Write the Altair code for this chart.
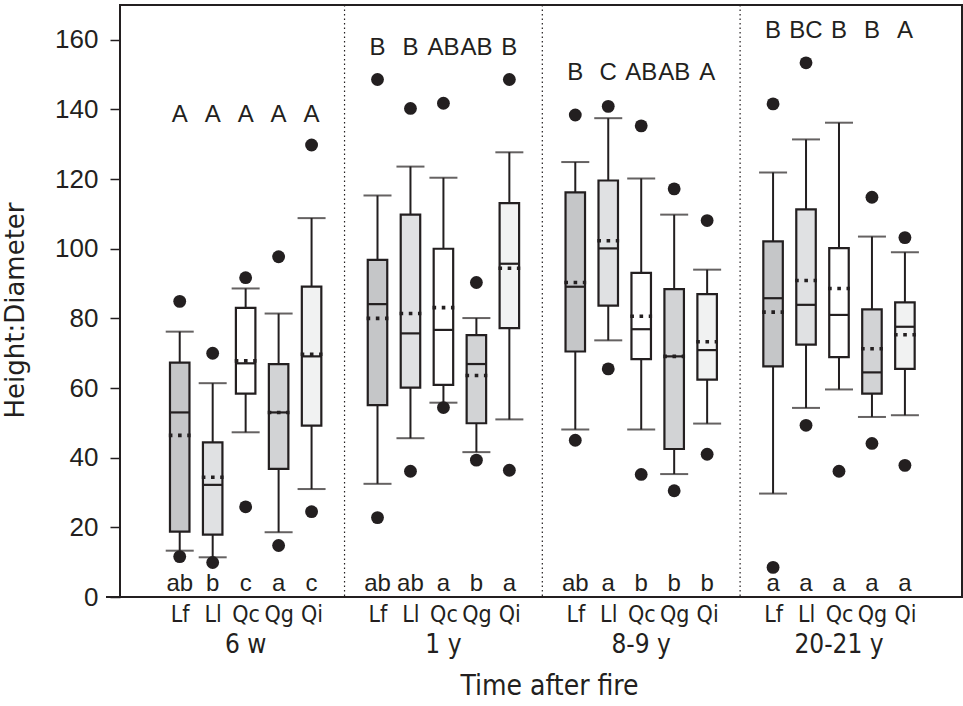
import altair as alt
import pandas as pd

groups = ["6 w", "1 y", "8-9 y", "20-21 y"]
species = ["Lf", "Ll", "Qc", "Qg", "Qi"]

whisker_low = [[13.3, 11.4, 47.3, 18.6, 31.0],
               [32.5, 45.6, 55.8, 41.6, 51.0],
               [48.1, 73.7, 48.1, 35.3, 49.8],
               [29.7, 54.3, 59.6, 51.7, 52.2]]
q1 = [[18.8, 17.9, 58.4, 36.8, 49.2],
      [55.1, 60.1, 60.9, 49.9, 77.2],
      [70.5, 83.7, 68.3, 42.5, 62.4],
      [66.2, 72.5, 68.9, 58.4, 65.5]]
median = [[53.0, 32.2, 67.1, 53.0, 69.1],
          [84.1, 75.7, 76.7, 66.9, 95.7],
          [89.1, 100.1, 76.9, 69.1, 70.9],
          [85.8, 83.9, 81.0, 64.5, 77.6]]
mean = [[46.4, 34.4, 67.8, 53.0, 69.7],
        [80.0, 81.4, 83.1, 63.6, 94.4],
        [90.3, 102.3, 80.6, 69.1, 73.3],
        [81.8, 90.9, 88.6, 71.3, 75.3]]
q3 = [[67.3, 44.4, 83.0, 66.9, 89.1],
      [96.8, 109.8, 100.0, 75.2, 113.1],
      [116.2, 119.6, 93.1, 88.4, 87.0],
      [102.1, 111.3, 100.2, 82.6, 84.6]]
whisker_high = [[76.2, 61.4, 88.6, 81.4, 108.8],
                [115.3, 123.6, 120.4, 80.1, 127.7],
                [124.9, 137.5, 120.2, 109.8, 94.0],
                [121.9, 131.4, 136.2, 103.5, 99.0]]
outlier_low = [[11.6, 9.9, 25.9, 14.8, 24.5],
               [22.8, 36.1, 54.4, 39.3, 36.4],
               [45.0, 65.5, 35.2, 30.5, 41.0],
               [8.5, 49.3, 36.1, 44.1, 37.8]]
outlier_high = [[84.9, 70.0, 91.7, 97.7, 129.8],
                [148.6, 140.3, 141.8, 90.3, 148.6],
                [138.4, 140.9, 135.3, 117.2, 108.1],
                [141.6, 153.4, None, 114.8, 103.2]]
upper_letters = [["A", "A", "A", "A", "A"],
                 ["B", "B", "AB", "AB", "B"],
                 ["B", "C", "AB", "AB", "A"],
                 ["B", "BC", "B", "B", "A"]]
lower_letters = [["ab", "b", "c", "a", "c"],
                 ["ab", "ab", "a", "b", "a"],
                 ["ab", "a", "b", "b", "b"],
                 ["a", "a", "a", "a", "a"]]

# layout: height at which the letter rows sit, per group (in axis units)
upper_letter_y = [138.4, 157.6, 150.4, 162.6]
lower_letter_y = 3.6

rows, outs = [], []
for g, gname in enumerate(groups):
    for s, sp in enumerate(species):
        pos = 6 * g + s
        rows.append(dict(group=gname, species=sp, pos=pos,
                         wlo=whisker_low[g][s], q1=q1[g][s], med=median[g][s],
                         mean=mean[g][s], q3=q3[g][s], whi=whisker_high[g][s],
                         up=upper_letters[g][s], low=lower_letters[g][s],
                         upy=upper_letter_y[g], lowy=lower_letter_y))
        for v in (outlier_low[g][s], outlier_high[g][s]):
            if v is not None:
                outs.append(dict(pos=pos, v=v))
df = pd.DataFrame(rows)
dout = pd.DataFrame(outs)
dgroups = pd.DataFrame({"group": groups, "pos": [6 * g + 2 for g in range(len(groups))]})
ddiv = pd.DataFrame({"pos": [5, 11, 17]})

INK = "#231f20"
NARROW = "DejaVu Sans Condensed, Liberation Sans Narrow, sans-serif"
REG = "Liberation Sans, Arial, Helvetica, sans-serif"
WIDE = "DejaVu Sans, sans-serif"
fills = ["#c5c6c8", "#e0e1e3", "#ffffff", "#d2d3d5", "#f1f2f2"]

xsc = alt.Scale(domain=[-1.66, 23.58], nice=False, zero=False)
ysc = alt.Scale(domain=[0, 170], nice=False, zero=True)

label_expr = "['Lf','Ll','Qc','Qg','Qi'][datum.value % 6]"
xaxis = alt.Axis(values=[int(p) for p in df["pos"]], labelExpr=label_expr,
                 title="Time after fire", titleFont=NARROW, titleFontSize=28,
                 titleFontWeight="normal", titleColor=INK, titlePadding=46,
                 titleX=429,
                 labelFont=NARROW, labelFontSize=23, labelColor=INK,
                 labelPadding=6, ticks=False, grid=False, domain=False,
                 labelFlush=False, labelOverlap=False)
yaxis = alt.Axis(values=list(range(0, 161, 20)), title="Height:Diameter",
                 titleFont=WIDE, titleFontSize=26, titleFontWeight="normal",
                 titleColor=INK, titlePadding=26, titleY=305,
                 labelFont=REG, labelFontSize=26,
                 labelColor=INK, labelPadding=12, tickSize=10, tickWidth=1.5,
                 tickColor=INK, grid=False, domain=False)

base = alt.Chart(df)

dividers = alt.Chart(ddiv).mark_rule(color=INK, strokeWidth=1.2, strokeDash=[1.5, 3]).encode(
    x=alt.X("pos:Q", scale=xsc, axis=xaxis))

axis_stub = alt.Chart(ddiv.head(1)).mark_rule(color=INK, strokeWidth=2).encode(
    x=alt.value(-14), x2=alt.value(0), y=alt.value(592))

whiskers = base.mark_rule(color=INK, strokeWidth=2).encode(
    x=alt.X("pos:Q", scale=xsc),
    y=alt.Y("wlo:Q", scale=ysc, axis=yaxis), y2="whi:Q")

cap_lo = base.mark_tick(orient="horizontal", color=INK, size=28, thickness=2).encode(
    x=alt.X("pos:Q", scale=xsc), y=alt.Y("wlo:Q", scale=ysc))
cap_hi = base.mark_tick(orient="horizontal", color=INK, size=28, thickness=2).encode(
    x=alt.X("pos:Q", scale=xsc), y=alt.Y("whi:Q", scale=ysc))

boxes = base.mark_bar(size=19.5, stroke=INK, strokeWidth=2.2).encode(
    x=alt.X("pos:Q", scale=xsc),
    y=alt.Y("q1:Q", scale=ysc), y2="q3:Q",
    fill=alt.Fill("species:N", scale=alt.Scale(domain=species, range=fills), legend=None))

medians = base.transform_calculate(
    xa="datum.pos - 0.3", xb="datum.pos + 0.3"
).mark_rule(color=INK, strokeWidth=2.2).encode(
    x=alt.X("xa:Q", scale=xsc), x2="xb:Q", y=alt.Y("med:Q", scale=ysc))

means = base.transform_calculate(
    xa="datum.pos - 0.33", xb="datum.pos + 0.33"
).mark_rule(color=INK, strokeWidth=3.6, strokeCap="butt", strokeDash=[3.6, 5.6]).encode(
    x=alt.X("xa:Q", scale=xsc), x2="xb:Q", y=alt.Y("mean:Q", scale=ysc))

outliers = alt.Chart(dout).mark_circle(size=165, color=INK, opacity=1).encode(
    x=alt.X("pos:Q", scale=xsc), y=alt.Y("v:Q", scale=ysc))

up_text = base.mark_text(font=REG, fontSize=24, color=INK, baseline="middle").encode(
    x=alt.X("pos:Q", scale=xsc), y=alt.Y("upy:Q", scale=ysc), text="up:N")
low_text = base.mark_text(font=REG, fontSize=24, color=INK, baseline="middle").encode(
    x=alt.X("pos:Q", scale=xsc), y=alt.Y("lowy:Q", scale=ysc), text="low:N")

group_text = alt.Chart(dgroups).mark_text(font=NARROW, fontSize=26, color=INK,
                                          baseline="middle").encode(
    x=alt.X("pos:Q", scale=xsc), y=alt.value(640), text="group:N")

chart = alt.layer(dividers, axis_stub, whiskers, cap_lo, cap_hi, boxes, medians, means,
                  outliers, up_text, low_text, group_text).properties(
    width=842, height=592,
    autosize=alt.AutoSizeParams(type="none"),
    padding={"left": 120, "top": 5, "right": 1, "bottom": 109},
    background="white",
).configure_view(stroke=INK, strokeWidth=2)

chart.save("out.html", embed_options={"renderer": "svg", "actions": False})
